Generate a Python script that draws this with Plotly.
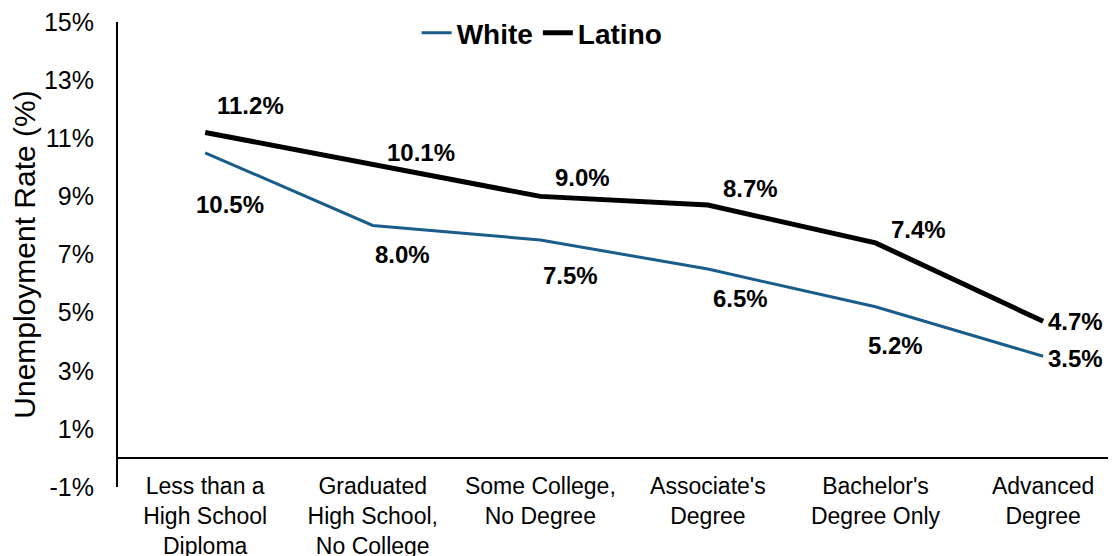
import plotly.graph_objects as go

categories = ["Less than a<br>High School<br>Diploma", "Graduated<br>High School,<br>No College",
              "Some College,<br>No Degree", "Associate's<br>Degree", "Bachelor's<br>Degree Only",
              "Advanced<br>Degree"]
white = [10.5, 8.0, 7.5, 6.5, 5.2, 3.5]
latino = [11.2, 10.1, 9.0, 8.7, 7.4, 4.7]
y_ticks = [-1, 1, 3, 5, 7, 9, 11, 13, 15]

x = list(range(len(categories)))
BLUE = "#1a5c8a"
FONT = "Liberation Sans, Arial, sans-serif"

fig = go.Figure()
fig.add_trace(go.Scatter(x=x, y=white, mode="lines", name="White",
                         line=dict(color=BLUE, width=3)))
fig.add_trace(go.Scatter(x=x, y=latino, mode="lines", name="Latino",
                         line=dict(color="black", width=5)))

lat_shift = [(45, 27), (48, 12), (42, 19), (43, 17), (43, 13), (32, 0)]
wht_shift = [(25, -52), (30, -29), (30, -36), (33, -29), (20, -39), (32, -2)]
for i in x:
    fig.add_annotation(x=i, y=latino[i], text=f"{latino[i]:.1f}%", showarrow=False,
                       xshift=lat_shift[i][0], yshift=lat_shift[i][1],
                       font=dict(family=FONT, size=24, color="black", weight="bold"))
    fig.add_annotation(x=i, y=white[i], text=f"{white[i]:.1f}%", showarrow=False,
                       xshift=wht_shift[i][0], yshift=wht_shift[i][1],
                       font=dict(family=FONT, size=24, color="black", weight="bold"))

fig.update_layout(
    width=1108, height=548,
    margin=dict(l=110, r=0, t=14, b=69),
    plot_bgcolor="white", paper_bgcolor="white",
    font=dict(family=FONT, color="black"),
    showlegend=True,
    legend=dict(orientation="h", x=0.425, xanchor="center", y=0.977, yanchor="middle",
                font=dict(family=FONT, size=28, color="black", weight="bold"),
                bgcolor="rgba(0,0,0,0)", itemwidth=30, tracegroupgap=0),
    xaxis=dict(tickmode="array", tickvals=x, ticktext=categories, range=[-0.52, 5.435],
               showgrid=False, showline=False, zeroline=False, ticks="", automargin=False,
               ticklabeloverflow="allow",
               tickfont=dict(family=FONT, size=23, color="black"), ticklabelstandoff=-17),
    yaxis=dict(range=[-1, 15], tickvals=y_ticks, ticktext=[f"{v}%" for v in y_ticks],
               showgrid=False, showline=True, linecolor="black", linewidth=2, automargin=False,
               zeroline=True, zerolinecolor="black", zerolinewidth=2, ticks="",
               ticklabeloverflow="allow",
               tickfont=dict(family=FONT, size=25, color="black"), ticklabelstandoff=17,
               title=dict(text="Unemployment Rate (%)", font=dict(family=FONT, size=30, color="black"),
                          standoff=15)),
)

fig.write_html("out.html")
